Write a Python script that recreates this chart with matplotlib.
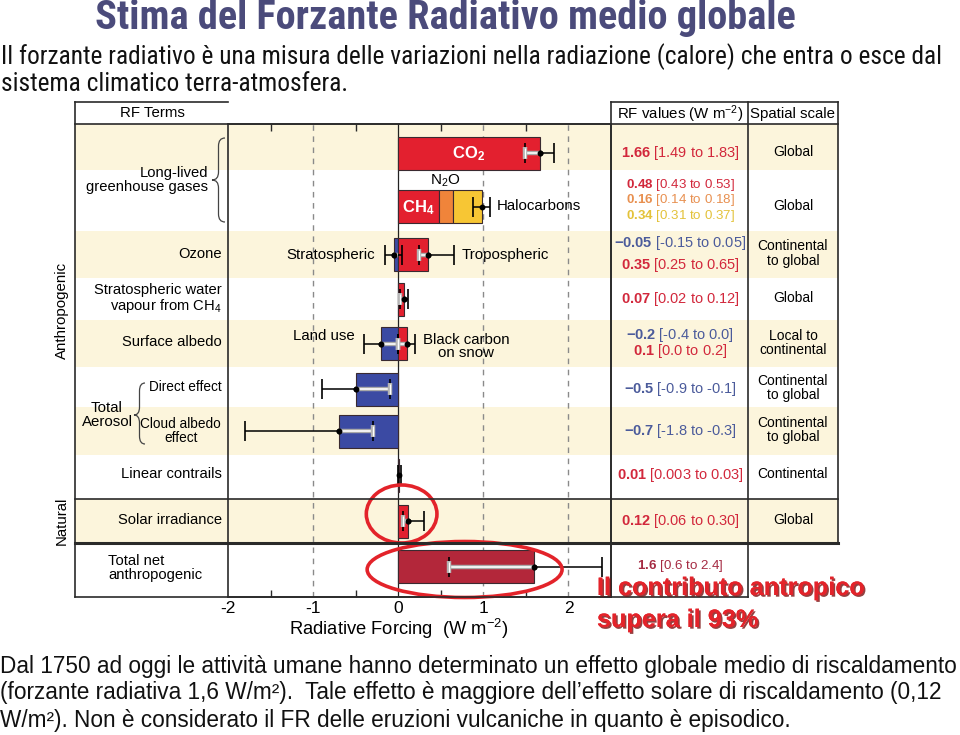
import matplotlib
matplotlib.use('Agg')
import matplotlib.pyplot as plt
import matplotlib.patheffects as pe
from matplotlib import font_manager as fm
from matplotlib.lines import Line2D
from matplotlib.patches import Rectangle, Ellipse, PathPatch
from matplotlib.path import Path
import numpy as np

# ---------------- data ----------------
row_labels = ['Long-lived\ngreenhouse gases', '', 'Ozone', 'Stratospheric water\nvapour from CH$_4$',
              'Surface albedo', 'Direct effect', 'Cloud albedo\neffect', 'Linear contrails',
              'Solar irradiance', 'Total net\nanthropogenic']

terms = ['CO2', 'CH4', 'N2O', 'Halocarbons', 'Strat O3', 'Trop O3', 'Strat H2O', 'Land use',
         'Black carbon', 'Direct', 'Cloud albedo', 'Contrails', 'Solar', 'Total net']
term_row = [0, 1, 1, 1, 2, 2, 3, 4, 4, 5, 6, 7, 8, 9]
rf_best = [1.66, 0.48, 0.16, 0.34, -0.05, 0.35, 0.07, -0.2, 0.1, -0.5, -0.7, 0.01, 0.12, 1.6]

# error bars (the three LLGHG terms share one bar on their sum)
err_row = [0, 1, 2, 2, 3, 4, 4, 5, 6, 7, 8, 9]
err_best = [1.66, 0.98, -0.05, 0.35, 0.07, -0.2, 0.1, -0.5, -0.7, 0.01, 0.12, 1.6]
err_lo = [1.49, 0.88, -0.15, 0.25, 0.02, -0.4, 0.0, -0.9, -1.8, 0.003, 0.06, 0.6]
err_hi = [1.83, 1.08, 0.05, 0.65, 0.12, 0.0, 0.2, -0.1, -0.3, 0.03, 0.30, 2.4]

val_txt = ['1.66', '0.48', '0.16', '0.34', '-0.05', '0.35', '0.07', '-0.2', '0.1', '-0.5', '-0.7',
           '0.01', '0.12', '1.6']
rng_txt = ['[1.49 to 1.83]', '[0.43 to 0.53]', '[0.14 to 0.18]', '[0.31 to 0.37]', '[-0.15 to 0.05]',
           '[0.25 to 0.65]', '[0.02 to 0.12]', '[-0.4 to 0.0]', '[0.0 to 0.2]', '[-0.9 to -0.1]',
           '[-1.8 to -0.3]', '[0.003 to 0.03]', '[0.06 to 0.30]', '[0.6 to 2.4]']
scale_txt = ['Global', 'Global', 'Continental\nto global', 'Global', 'Local to\ncontinental',
             'Continental\nto global', 'Continental\nto global', 'Continental', 'Global', '']

xticks = [-2, -1, 0, 1, 2]

# ---------------- style ----------------
RED = '#e3202f'
ORANGE = '#f0843a'
YELLOW = '#f7c634'
BLUE = '#3b4aa3'
DARKRED = '#b3273a'
bar_col = [RED, RED, ORANGE, YELLOW, BLUE, RED, RED, BLUE, RED, BLUE, BLUE, RED, RED, DARKRED]
T_RED, T_ORA, T_YEL, T_BLU, T_TOT = '#d2283c', '#e89050', '#e3c23a', '#4b5b9b', '#a52a42'
val_col = [T_RED, T_RED, T_ORA, T_YEL, T_BLU, T_RED, T_RED, T_BLU, T_RED, T_BLU, T_BLU, T_RED,
           T_RED, T_TOT]
BEIGE = '#fcf5dc'
FRAME = '#2a2a2a'
SLIDE_RED = '#e3232a'

plt.rcParams['font.family'] = ['Liberation Sans', 'DejaVu Sans']
plt.rcParams['mathtext.fontset'] = 'custom'
plt.rcParams['mathtext.rm'] = 'Liberation Sans'
plt.rcParams['mathtext.it'] = 'Liberation Sans:italic'
plt.rcParams['mathtext.bf'] = 'Liberation Sans:bold'
plt.rcParams['axes.unicode_minus'] = False


def pick_narrow():
    names = {f.name for f in fm.fontManager.ttflist}
    for n in ['Liberation Sans Narrow', 'Arial Narrow', 'Roboto Condensed', 'Open Sans Condensed',
              'Noto Sans Condensed', 'Noto Sans SemiCondensed']:
        if n in names:
            return {'family': [n, 'DejaVu Sans']}
    for fam in ['Noto Sans', 'Roboto', 'Open Sans', 'DejaVu Sans']:
        for f in fm.fontManager.ttflist:
            if f.name == fam and 'condensed' in str(f.stretch):
                return {'family': [fam], 'fontstretch': 'condensed'}
    return {'family': ['Liberation Sans', 'DejaVu Sans']}


NARROW = pick_narrow()

W, H = 960, 735
fig = plt.figure(figsize=(W / 100, H / 100), dpi=100)
fig.patch.set_facecolor('white')


def P(x, y):
    return (x / W, 1 - y / H)


def ftext(x, y, s, **kw):
    kw.setdefault('fontsize', 10)
    kw.setdefault('va', 'center')
    return fig.text(x / W, 1 - y / H, s, **kw)


def hline(y, x0, x1, lw=1.2):
    fig.add_artist(Line2D([x0 / W, x1 / W], [1 - y / H] * 2, color=FRAME, lw=lw,
                          transform=fig.transFigure, zorder=4))


def vline(x, y0, y1, lw=1.2):
    fig.add_artist(Line2D([x / W] * 2, [1 - y0 / H, 1 - y1 / H], color=FRAME, lw=lw,
                          transform=fig.transFigure, zorder=4))


def brace(xe, xt, y0, y1, ym):
    xm = (xe + xt) / 2
    r = min(8, (y1 - y0) / 6)
    pts = [(xe, y0), (xm, y0), (xm, y0 + r), (xm, ym - r), (xm, ym), (xt, ym),
           (xm, ym), (xm, ym + r), (xm, y1 - r), (xm, y1), (xe, y1)]
    codes = [Path.MOVETO, Path.CURVE3, Path.CURVE3, Path.LINETO, Path.CURVE3, Path.CURVE3,
             Path.CURVE3, Path.CURVE3, Path.LINETO, Path.CURVE3, Path.CURVE3]
    fig.add_artist(PathPatch(Path([P(*p) for p in pts], codes), fill=False, lw=0.9,
                             edgecolor='#444444', transform=fig.transFigure, zorder=4))


def fit(t, target):
    r = fig.canvas.get_renderer()
    w = t.get_window_extent(r).width
    t.set_fontsize(t.get_fontsize() * target / w)
    return t.get_fontsize()


# ---------------- layout of the RF panel ----------------
TOP, BOT = 124, 597
row_px = np.array([46, 61, 47, 42, 47, 40, 48, 44, 44, 53])
row_top = np.concatenate([[0], np.cumsum(row_px)[:-1]])
row_mid = row_top + row_px / 2
bar_y = row_mid + np.array([6, 6, 0, 0, 0, 2, 0, -2, 0, -3])
BAR_H = 33

ax = fig.add_axes([228 / W, 1 - BOT / H, (611 - 228) / W, (BOT - TOP) / H])
ax.set_xlim(-2, 2.5)
ax.set_ylim(BOT - TOP, 0)
ax.patch.set_visible(False)

# beige bands across the whole table
for r in range(0, 10, 2):
    fig.add_artist(Rectangle(P(75, TOP + row_top[r] + row_px[r]), (838 - 75) / W, row_px[r] / H,
                             facecolor=BEIGE, edgecolor='none', transform=fig.transFigure,
                             zorder=-1))

for x in [-1, 1, 2]:
    ax.axvline(x, color='#8a8a8a', lw=1, dashes=(4, 4), zorder=1)
ax.axvline(0, color='#222222', lw=0.9, zorder=1)

# bars
left = []
stack = {}
for i, r in enumerate(term_row):
    if r == 1:
        left.append(stack.get(r, 0.0))
        stack[r] = stack.get(r, 0.0) + rf_best[i]
    else:
        left.append(0.0)
ax.barh(bar_y[term_row], rf_best, left=left, height=BAR_H, color=bar_col,
        edgecolor='#3a2a30', lw=0.8, zorder=2)

# error bars
eb = np.array(err_best)
ax.errorbar(eb, bar_y[err_row], xerr=[eb - np.array(err_lo), np.array(err_hi) - eb], fmt='o',
            ms=3.2, color='black', ecolor='black', elinewidth=1.1, capsize=7.5, capthick=1.2,
            zorder=3)
# part of the uncertainty range lying inside the bar: light double line
for i, r in enumerate(err_row):
    v, lo, hi = err_best[i], err_lo[i], err_hi[i]
    if r == 1:
        continue
    if v > 0:
        a, b, end = max(lo, 0.0), v, lo
    else:
        a, b, end = v, min(hi, 0.0), hi
    if b - a < 0.02:
        continue
    y = bar_y[r]
    ax.plot([a, b], [y, y], color='#a8a8a8', lw=3.2, solid_capstyle='butt', zorder=3.1)
    ax.plot([a, b], [y, y], color='white', lw=1.2, solid_capstyle='butt', zorder=3.2)
    if (v > 0 and lo >= 0) or (v < 0 and hi <= 0):
        ax.plot([end], [y], marker='|', ms=9, mew=3.2, color='#b4b4b4', zorder=3.3)
        ax.plot([end], [y], marker='|', ms=7, mew=0.9, color='white', zorder=3.4)
    ax.plot([v], [y], 'o', ms=3.2, color='black', zorder=3.5)

# in-plot labels
LBL = 10.8
ax.text(rf_best[0] / 2, bar_y[0] + 1, r'$\mathbf{CO_2}$', color='white', fontsize=12,
        ha='center', va='center', zorder=5)
ax.text(rf_best[1] / 2, bar_y[1] + 1, r'$\mathbf{CH_4}$', color='white', fontsize=12,
        ha='center', va='center', zorder=5)
ax.text(left[2] + rf_best[2] / 2 - 0.01, bar_y[1] - 26, r'N$_2$O', color='black', fontsize=11,
        ha='center', va='center', zorder=5)
ax.text(err_hi[1] + 0.08, bar_y[1], 'Halocarbons', fontsize=LBL, ha='left', va='center', zorder=5)
ax.text(err_lo[2] - 0.12, bar_y[2], 'Stratospheric', fontsize=LBL, ha='right', va='center',
        zorder=5)
ax.text(err_hi[3] + 0.1, bar_y[2], 'Tropospheric', fontsize=LBL, ha='left', va='center', zorder=5)
ax.text(err_lo[5] - 0.11, bar_y[4] - 7, 'Land use', fontsize=LBL, ha='right', va='center',
        zorder=5)
ax.text(0.8, bar_y[4] + 3, 'Black carbon\non snow', fontsize=LBL, ha='center', va='center',
        linespacing=0.95, zorder=5)

# ellipses
ax.add_patch(Ellipse((rf_best[12] / 2 - 0.02, bar_y[8] - 7), 0.83, 58, fill=False,
                     edgecolor=SLIDE_RED, lw=2.6, clip_on=False, zorder=6))
ax.add_patch(Ellipse((rf_best[13] / 2 - 0.02, bar_y[9] + 3), 2.29, 56, fill=False,
                     edgecolor=SLIDE_RED, lw=2.6, clip_on=False, zorder=6))

# axis
ax.set_yticks([])
ax.set_xticks(xticks)
ax.set_xticks([-1.5, -0.5, 0.5, 1.5], minor=True)
ax.tick_params(axis='x', which='both', direction='in', top=True, bottom=True, width=1,
               color=FRAME, labelsize=12.5, pad=3)
ax.tick_params(axis='x', which='major', length=0)
ax.tick_params(axis='x', which='minor', length=5)
ax.set_xlabel(r'Radiative Forcing  (W m$^{-2}$)', fontsize=13.2, labelpad=0)
ax.xaxis.set_label_coords((399 - 228) / 383, -0.042)
for s in ax.spines.values():
    s.set_color(FRAME)
    s.set_linewidth(1.2)

# table frame
hline(102, 75, 228)
hline(102, 611, 838)
hline(TOP, 75, 838)
hline(499, 75, 838)
hline(543, 75, 838, lw=2.2)
hline(BOT, 75, 748)
vline(75, 102, BOT)
vline(611, 102, BOT)
vline(748, 102, BOT)
vline(838, 102, 543)

# headers
ftext(152, 113, 'RF Terms', ha='center', fontsize=10.8)
ftext(680, 114, r'RF values (W m$^{-2}$)', ha='center', fontsize=10.8)
ftext(793, 114, 'Spatial scale', ha='center', fontsize=10.8)

# left column
ftext(208, 180, row_labels[0], ha='right', fontsize=10.6, linespacing=1.05)
brace(225, 212, 138, 222, 180)
for r in [2, 3, 4, 7, 8]:
    ftext(222, TOP + bar_y[r] - (1 if r != 3 else 0), row_labels[r], ha='right', fontsize=10.6,
          linespacing=1.0)
ftext(222, TOP + bar_y[5] - 2, row_labels[5], ha='right', fontsize=9.8)
ftext(221, TOP + bar_y[6], row_labels[6], ha='right', multialignment='center', fontsize=9.8,
      linespacing=0.95)
ftext(107, 415, 'Total\nAerosol', ha='center', fontsize=10.8, linespacing=1.0)
brace(145, 134, 383, 444, 415)
ftext(108, 568, row_labels[9], ha='left', fontsize=10.6, linespacing=1.05)
ftext(62, 310, 'Anthropogenic', rotation=90, ha='center', fontsize=10.8)
ftext(62, 521, 'Natural', rotation=90, ha='center', fontsize=10.8)

# RF values column
val_dy = [0, -15.5, 0, 15.5, -11, 10, 0, -9, 8, 0, 0, 0, 0, -1]
for i, r in enumerate(term_row):
    y = TOP + (bar_y[r] if r != 1 else row_mid[1]) + val_dy[i]
    fs = 9.6 if i == 13 else (9.6 if r == 1 else 10.5)
    ftext(680, y, r'$\mathbf{' + val_txt[i] + '}$ ' + rng_txt[i], ha='center', color=val_col[i],
          fontsize=fs)

# spatial scale column
for r, s in enumerate(scale_txt):
    if s:
        ftext(793, TOP + bar_y[r] - 1, s, ha='center', fontsize=10, linespacing=1.0)

# ---------------- slide texts ----------------
t = ftext(445, 18, 'Stima del Forzante Radiativo medio globale', ha='center', fontsize=24,
          fontweight='bold', color='#4b4b7b', **NARROW)
fit(t, 704)
t1 = ftext(1, 57, 'Il forzante radiativo è una misura delle variazioni nella radiazione (calore) '
           'che entra o esce dal', ha='left', fontsize=16, color='#111111', **NARROW)
fs = fit(t1, 945)
ftext(1, 84, 'sistema climatico terra-atmosfera.', ha='left', fontsize=fs, color='#111111',
      **NARROW)

b1 = ftext(0, 667, 'Dal 1750 ad oggi le attività umane hanno determinato un effetto globale medio '
           'di riscaldamento', ha='left', fontsize=14.5, color='#111111')
fs = fit(b1, 958)
ftext(0, 693, '(forzante radiativa 1,6 W/m²).  Tale effetto è maggiore dell’effetto solare di '
      'riscaldamento (0,12', ha='left', fontsize=fs, color='#111111')
ftext(0, 720, 'W/m²). Non è considerato il FR delle eruzioni vulcaniche in quanto è episodico.',
      ha='left', fontsize=fs, color='#111111')

shadow = [pe.withSimplePatchShadow(offset=(1.2, -1.2), shadow_rgbFace='#7a1010', alpha=0.8),
          pe.Normal()]
a1 = ftext(597, 588, 'Il contributo antropico', ha='left', fontsize=17, fontweight='bold',
           color=SLIDE_RED, path_effects=shadow, zorder=7)
fs = fit(a1, 268)
ftext(597, 620, 'supera il 93%', ha='left', fontsize=fs, fontweight='bold', color=SLIDE_RED,
      path_effects=shadow, zorder=7)

fig.savefig('out.png', dpi=100)
